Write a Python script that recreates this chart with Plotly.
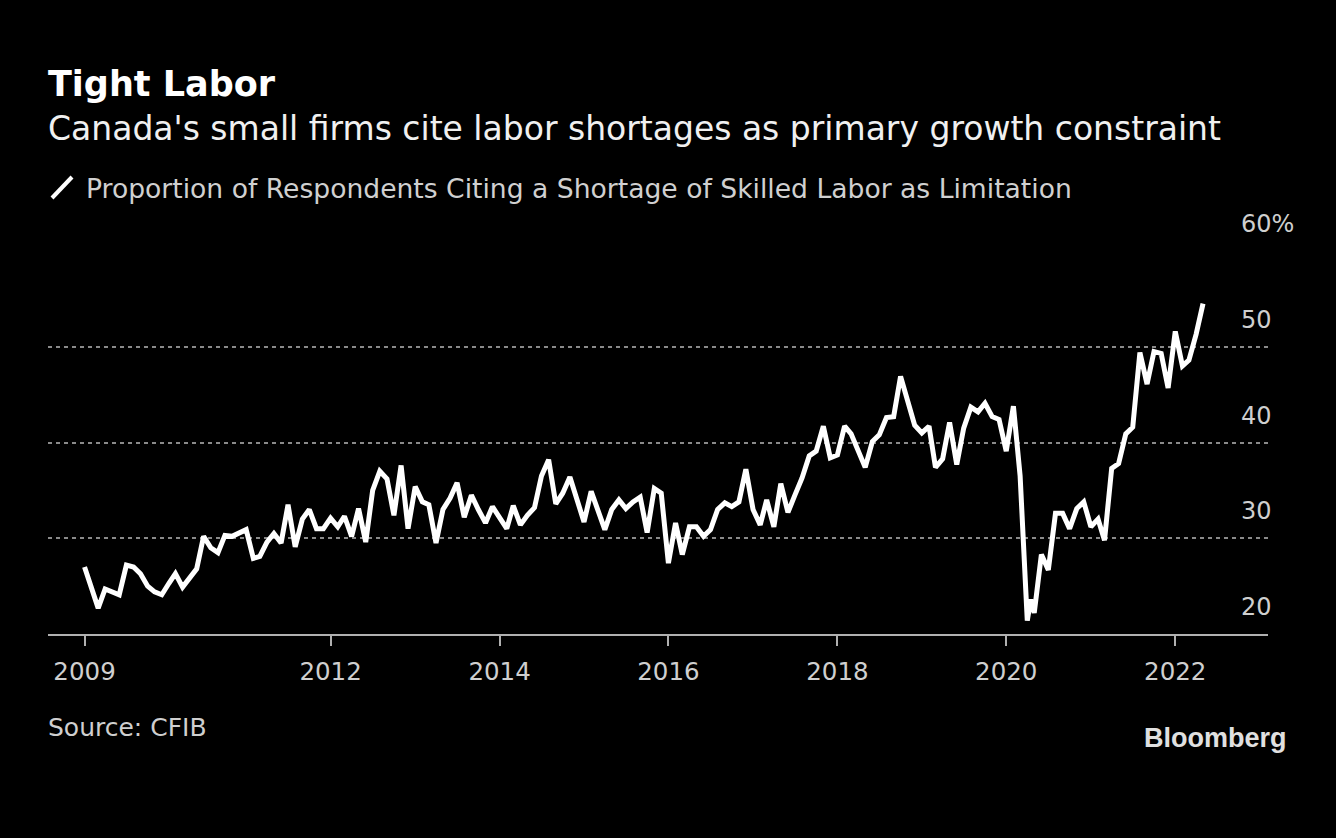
import pandas as pd
import plotly.graph_objects as go

# ---- data (monthly, Feb 2009 - May 2022; one extra mid-April 2020 reading) ----
start_month = "2009-02-01"
values = [
    27.0, 24.8, 22.7, 24.7, 24.4, 24.1, 27.2, 27.0, 26.3, 25.0,   # 2009
    24.4, 24.1, 25.3, 26.3, 24.9, 25.9, 26.8, 30.2, 29.0, 28.5,
    30.3, 30.2, 30.6, 30.9, 27.9, 28.1, 29.6, 30.5, 29.5, 33.5,
    29.1, 32.0, 33.0, 31.0, 31.0, 32.1, 31.2, 32.3, 30.2, 33.1,
    29.6, 35.0, 37.0, 36.2, 32.4, 37.6, 31.0, 35.4, 33.8, 33.5,
    29.5, 33.0, 34.2, 35.8, 32.2, 34.5, 33.0, 31.6, 33.3, 32.2,
    31.0, 33.4, 31.4, 32.4, 33.2, 36.5, 38.2, 33.6, 34.7, 36.4,
    34.0, 31.7, 34.9, 32.9, 30.9, 33.0, 34.0, 33.1, 33.8, 34.3,
    30.6, 35.2, 34.7, 27.4, 31.6, 28.3, 31.2, 31.2, 30.2, 30.9,
    33.0, 33.7, 33.3, 33.8, 37.2, 33.0, 31.4, 34.0, 31.2, 35.7,
    32.7, 34.5, 36.3, 38.6, 39.1, 41.7, 38.4, 38.7, 41.7, 40.9,
    39.1, 37.4, 40.1, 40.8, 42.6, 42.7, 46.9, 44.4, 41.8, 41.0,
    41.7, 37.4, 38.3, 42.1, 37.7, 41.5, 43.7, 43.2, 44.1, 42.7,
    42.4, 39.1, 43.8, 36.5, 21.4, 22.2, 28.3, 26.7, 32.6, 32.6,
    31.0, 33.1, 33.8, 31.2, 32.0, 29.8, 37.3, 37.8, 40.9, 41.6,
    49.4, 46.1, 49.5, 49.3, 45.7, 51.6, 48.0, 48.6, 51.3, 54.5,
]
extra_date = "2020-04-16"
extra_value = 23.6

tick_dates = ["2009-02-01", "2012-01-01", "2014-01-01", "2016-01-01",
              "2018-01-01", "2020-01-01", "2022-01-01"]
tick_labels = ["2009", "2012", "2014", "2016", "2018", "2020", "2022"]
y_ticks = [20, 30, 40, 50, 60]
y_labels = ["20", "30", "40", "50", "60%"]

title = "Tight Labor"
subtitle = "Canada's small firms cite labor shortages as primary growth constraint"
series_name = "Proportion of Respondents Citing a Shortage of Skilled Labor as Limitation"
source = "Source: CFIB"

# ---- build series ----
dates = pd.date_range(start_month, periods=len(values), freq="MS")
s = pd.Series(values, index=dates)
s.loc[pd.Timestamp(extra_date)] = extra_value
s = s.sort_index()

FONT = "DejaVu Sans"
fig = go.Figure()
fig.add_trace(go.Scatter(
    x=s.index, y=s.values, mode="lines", name=series_name,
    line=dict(color="#ffffff", width=5), showlegend=False,
))

fig.update_layout(
    width=1336, height=838,
    paper_bgcolor="#000000", plot_bgcolor="#000000",
    margin=dict(l=48, r=68, t=251, b=204),
    font=dict(family=FONT, color="#d0d0d0"),
    xaxis=dict(
        type="date", range=["2008-08-27", "2023-02-06"],
        tickvals=tick_dates, ticktext=tick_labels,
        showgrid=False, zeroline=False,
        showline=True, linecolor="#b0b0b0", linewidth=2,
        ticks="outside", ticklen=10, tickwidth=2, tickcolor="#b0b0b0",
        ticklabelstandoff=5,
        tickfont=dict(size=24.5, color="#cfcfcf", family=FONT),
    ),
    yaxis=dict(
        side="right", range=[20, 60],
        tickvals=y_ticks, showticklabels=False,
        showgrid=True, gridcolor="#8a8a8a", gridwidth=1.5, griddash="4px,4px",
        zeroline=False, showline=False, ticks="",
    ),
)

def px_x(x):
    return (x - 48) / 1220

def px_y(y):
    return (634 - y) / 383

# y-axis value labels, sitting above their gridlines
for v, lab in zip(y_ticks, y_labels):
    fig.add_annotation(
        text=lab, x=px_x(1239), y=v, xref="paper", yref="y",
        xanchor="left", yanchor="middle", yshift=27, showarrow=False,
        font=dict(size=24, color="#cfcfcf", family=FONT),
    )

anns = [
    dict(text=f"<b>{title}</b>", x=px_x(46), y=px_y(84), size=35, color="#ffffff"),
    dict(text=subtitle, x=px_x(46), y=px_y(128), size=33, color="#f0f0f0"),
    dict(text=series_name, x=px_x(84), y=px_y(188), size=26.6, color="#d0d0d0"),
    dict(text=source, x=px_x(46), y=px_y(727), size=25, color="#cfcfcf"),
]
for a in anns:
    fig.add_annotation(
        text=a["text"], x=a["x"], y=a["y"], xref="paper", yref="paper",
        xanchor="left", yanchor="middle", showarrow=False,
        font=dict(size=a["size"], color=a["color"], family=FONT),
    )
fig.add_annotation(
    text="<b>Bloomberg</b>", x=px_x(1289), y=px_y(738), xref="paper", yref="paper",
    xanchor="right", yanchor="middle", showarrow=False,
    font=dict(size=27, color="#e0e0e0", family="Liberation Sans"),
)
# legend key: short diagonal white stroke
fig.add_shape(type="line", xref="paper", yref="paper",
              x0=px_x(52), y0=px_y(198), x1=px_x(72), y1=px_y(177),
              line=dict(color="#ffffff", width=4))

fig.write_html("out.html", config={"displayModeBar": False},
               post_script="document.body.style.margin='0';document.body.style.background='#000';")
